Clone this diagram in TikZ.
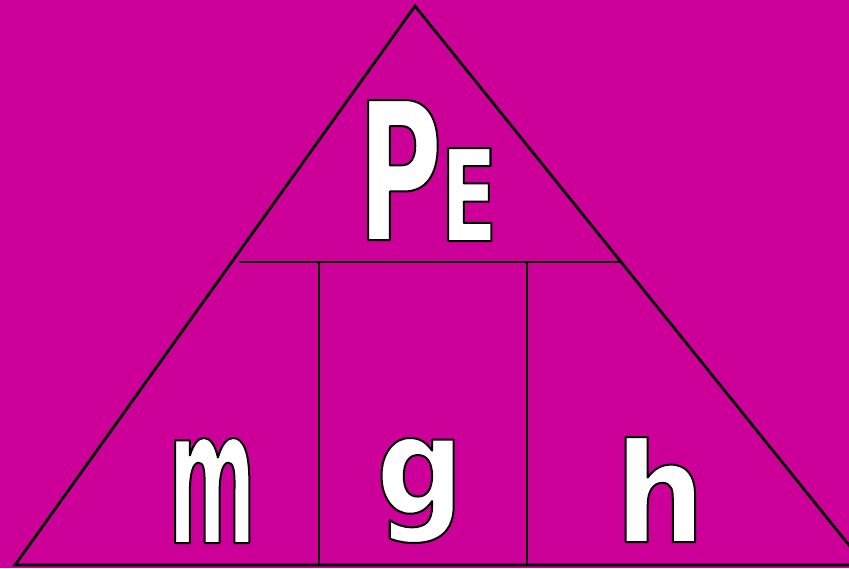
\documentclass[tikz,border=0pt]{standalone}
\usepackage{fontspec}
\setmainfont{DejaVu Sans}
\newfontfamily\fP[FakeStretch=0.6]{DejaVu Sans}
\newfontfamily\fE[FakeStretch=0.64]{DejaVu Sans}
\newfontfamily\fM[FakeStretch=0.45]{DejaVu Sans}
\newfontfamily\fGH[FakeStretch=0.92]{DejaVu Sans}
\usepackage{graphicx}
\definecolor{bgmag}{RGB}{204,0,153}
\tikzset{
  edge/.style={draw=black, line width=2.8pt},
  let/.style={inner sep=0pt, outer sep=0pt, anchor=south},
}
% outlined glyph: #1 font, #2 size, #3 width, #4 height, #5 letter
\newcommand{\olglyph}[5]{%
  \resizebox*{#3pt}{#4pt}{%
    \special{pdf:code q 2 Tr 1 g 0 G 2 w 1 j}%
    #1\bfseries\fontsize{#2}{#2}\selectfont #5%
    \special{pdf:code Q}}}
\begin{document}
\begin{tikzpicture}[x=1pt, y=-1pt]
  \fill[bgmag] (0,0) rectangle (849,568);
  \useasboundingbox (0,0) rectangle (849,568);
  \coordinate (apex) at (415,6);
  \coordinate (bl) at (15,565);
  \coordinate (br) at (865,565);
  \coordinate (hl) at (239,262);
  \coordinate (hr) at (621,262);
  \coordinate (v1t) at (319,262);
  \coordinate (v1b) at (319,565);
  \coordinate (v2t) at (527,262);
  \coordinate (v2b) at (527,565);
  \begin{scope}
    \clip (0,0) rectangle (849,568);
    \draw[edge, line join=miter] (bl) -- (apex) -- (br) -- cycle;
  \end{scope}
  \draw[edge] (hl) -- (hr);
  \draw[edge] (v1t) -- (v1b);
  \draw[edge] (v2t) -- (v2b);
  \node[let] (P) at (400,240) {\olglyph{\fP}{192}{85}{140}{P}};
  \node[let] (E) at (469,241) {\olglyph{\fE}{128}{57}{93}{E}};
  \node[let] (m) at (212,543) {\olglyph{\fM}{188}{88}{105}{m}};
  \node[let] (g) at (420,543) {\olglyph{\fGH}{133}{88}{105}{g}};
  \node[let] (h) at (660,542) {\olglyph{\fGH}{138}{90}{105}{h}};
\end{tikzpicture}
\end{document}
